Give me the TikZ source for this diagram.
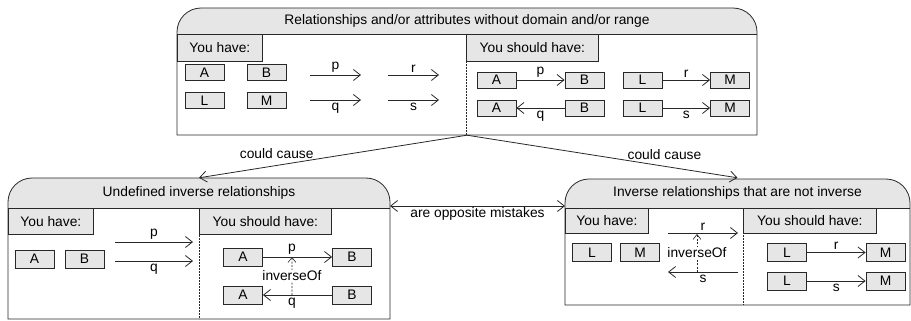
\documentclass[tikz,border=0pt]{standalone}
\usepackage{fontspec}
\setmainfont{Liberation Sans}
\usetikzlibrary{arrows.meta}
\definecolor{panelgray}{RGB}{230,230,230}
\definecolor{inkgray}{RGB}{40,40,40}

\begin{document}
\begin{tikzpicture}[x=1pt,y=1pt,
  every node/.style={font=\fontsize{13.8}{16}\selectfont, text=black},
  >={Straight Barb[length=7pt,width=11pt]},
  line/.style={draw=inkgray, line width=0.8pt},
  ent/.style={draw=inkgray, fill=panelgray, line width=0.8pt,
    minimum width=39pt, minimum height=16pt, inner sep=0pt},
  entb/.style={ent, minimum height=18pt},
  tab/.style={draw=inkgray, fill=panelgray, line width=0.8pt, anchor=north west,
    inner sep=0pt, minimum height=26pt},
  divider/.style={draw=inkgray, line width=0.6pt, dash pattern=on 2pt off 1pt},
  rel/.style={line, ->},
  inv/.style={draw=inkgray, line width=0.6pt, dash pattern=on 2pt off 1.5pt,
    -{Straight Barb[length=5pt,width=8pt]}},
  lbl/.style={inner sep=2.5pt},
]
\useasboundingbox (0,0) rectangle (911,-321);

% ---- container placeholders (used as connector ends)
\node[inner sep=0pt, minimum width=580pt, minimum height=127pt] (topbox) at (467,-71.5) {};
\node[inner sep=0pt, minimum width=382pt, minimum height=141pt] (leftbox) at (199,-248.5) {};
\node[inner sep=0pt, minimum width=345pt, minimum height=127pt] (rightbox) at (737.5,-241.5) {};

% ---- top container: rounded title band and frame
\fill[panelgray] (177,-34) -- (177,-32) arc[start angle=180,end angle=90,radius=24]
  -- (733,-8) arc[start angle=90,end angle=0,radius=24] -- (757,-34) -- cycle;
\draw[line] (177,-135) -- (177,-32) arc[start angle=180,end angle=90,radius=24]
  -- (733,-8) arc[start angle=90,end angle=0,radius=24] -- (757,-135) -- cycle;
\draw[line] (177,-34) -- (757,-34);
\node (toptitle) at (467,-21) {Relationships and/or attributes without domain and/or range};
\draw[divider] (466,-34) -- (466,-135);
\node[tab, minimum width=85pt, minimum height=27pt] (tHave) at (177,-34) {You have:};
\node[tab, minimum width=132pt, minimum height=27pt] (tShould) at (466,-34) {You should have:};

% left half: loose classes and properties
\node[ent] (hA) at (204.5,-72.5) {A};
\node[ent] (hB) at (266.5,-72.5) {B};
\node[ent] (hL) at (204.5,-100.5) {L};
\node[ent] (hM) at (266.5,-100.5) {M};
\coordinate (hp0) at (310,-75);  \coordinate (hp1) at (361,-75);
\coordinate (hr0) at (388,-75);  \coordinate (hr1) at (439,-75);
\coordinate (hq0) at (310,-100); \coordinate (hq1) at (361,-100);
\coordinate (hs0) at (388,-100); \coordinate (hs1) at (439,-100);
\draw[rel] (hp0) -- node[lbl,above] (hpl) {p} (hp1);
\draw[rel] (hr0) -- node[lbl,above] (hrl) {r} (hr1);
\draw[rel] (hq0) -- node[lbl,below] (hql) {q} (hq1);
\draw[rel] (hs0) -- node[lbl,below] (hsl) {s} (hs1);

% right half: properties with domain and range
\node[ent] (sA1) at (496.5,-80) {A};
\node[ent] (sB1) at (584.5,-80) {B};
\node[ent] (sA2) at (496.5,-108) {A};
\node[ent] (sB2) at (584.5,-108) {B};
\node[ent] (sL1) at (642.5,-80) {L};
\node[ent] (sM1) at (730,-80) {M};
\node[ent] (sL2) at (642.5,-108) {L};
\node[ent] (sM2) at (730,-108) {M};
\draw[rel] (sA1) -- node[lbl,above] (spl) {p} (sB1);
\draw[rel] (sB2) -- node[lbl,below] (sql) {q} (sA2);
\draw[rel] (sL1) -- node[lbl,above] (srl) {r} (sM1);
\draw[rel] (sL2) -- node[lbl,below] (ssl) {s} (sM2);

% ---- left container
\fill[panelgray] (8,-208) -- (8,-202) arc[start angle=180,end angle=90,radius=24]
  -- (366,-178) arc[start angle=90,end angle=0,radius=24] -- (390,-208) -- cycle;
\draw[line] (8,-319) -- (8,-202) arc[start angle=180,end angle=90,radius=24]
  -- (366,-178) arc[start angle=90,end angle=0,radius=24] -- (390,-319) -- cycle;
\draw[line] (8,-208) -- (390,-208);
\node (lefttitle) at (199,-193) {Undefined inverse relationships};
\draw[divider] (199,-208) -- (199,-319);
\node[tab, minimum width=85pt] (uHave) at (8,-208) {You have:};
\node[tab, minimum width=132pt] (uShould) at (199,-208) {You should have:};

\node[entb] (uA) at (34.5,-259) {A};
\node[entb] (uB) at (84.5,-259) {B};
\coordinate (up0) at (115,-242); \coordinate (up1) at (193,-242);
\coordinate (uq0) at (115,-261); \coordinate (uq1) at (193,-261);
\draw[rel] (up0) -- node[lbl,above] (upl) {p} (up1);
\draw[rel] (uq0) -- node[lbl,below] (uql) {q} (uq1);

\node[entb] (vA1) at (243,-257) {A};
\node[entb] (vB1) at (352,-257) {B};
\node[entb] (vA2) at (243,-295) {A};
\node[entb] (vB2) at (352,-295) {B};
\draw[rel] (vA1) -- coordinate[pos=0.42] (vpm) node[lbl,above,pos=0.42] (vpl) {p} (vB1);
\draw[rel] (vB2) -- coordinate[pos=0.58] (vqm) node[lbl,below,pos=0.58] (vql) {q} (vA2);
\draw[inv] (vqm) -- node[fill=white, inner sep=0.5pt] (vinv) {inverseOf} (vpm);

% ---- right container
\fill[panelgray] (565,-208) -- (565,-203) arc[start angle=180,end angle=90,radius=24]
  -- (886,-179) arc[start angle=90,end angle=0,radius=24] -- (910,-208) -- cycle;
\draw[line] (565,-305) -- (565,-203) arc[start angle=180,end angle=90,radius=24]
  -- (886,-179) arc[start angle=90,end angle=0,radius=24] -- (910,-305) -- cycle;
\draw[line] (565,-208) -- (910,-208);
\node (righttitle) at (737.5,-193) {Inverse relationships that are not inverse};
\draw[divider] (743,-208) -- (743,-305);
\node[tab, minimum width=83pt, minimum height=25pt] (wHave) at (565,-208) {You have:};
\node[tab, minimum width=133pt, minimum height=25pt] (wShould) at (743,-208) {You should have:};

\node[entb] (wL) at (592,-252.5) {L};
\node[entb] (wM) at (640,-252.5) {M};
\coordinate (wr0) at (668,-233); \coordinate (wr1) at (738,-233);
\coordinate (ws0) at (738,-272); \coordinate (ws1) at (668,-272);
\coordinate (wrm) at (697,-234); \coordinate (wsm) at (697,-272);
\draw[rel] (wr0) -- node[lbl,above] (wrl) {r} (wr1);
\draw[rel] (ws0) -- node[lbl,below] (wsl) {s} (ws1);
\draw[inv] (wsm) -- node[fill=white, inner sep=0.5pt] (winv) {inverseOf} (wrm);

\node[entb] (xL1) at (787,-252.5) {L};
\node[entb] (xM1) at (885.5,-252.5) {M};
\node[entb] (xL2) at (787,-281) {L};
\node[entb] (xM2) at (885.5,-281) {M};
\draw[rel] (xL1) -- node[lbl,above] (xrl) {r} (xM1);
\draw[rel] (xL2) -- node[lbl,below] (xsl) {s} (xM2);

% ---- links between the containers
\draw[rel] (topbox.south) -- node[pos=0.71, above=6pt, inner sep=0pt] (cc1) {could cause} (leftbox.north);
\draw[rel] (topbox.south) -- node[pos=0.73, above=6pt, inner sep=0pt] (cc2) {could cause} (rightbox.north);
\coordinate (oppL) at (390,-206);
\coordinate (oppR) at (565,-206);
\draw[line, <->] (oppL) -- node[below=1.5pt, inner sep=0pt] (opp) {are opposite mistakes} (oppR);
\end{tikzpicture}
\end{document}
